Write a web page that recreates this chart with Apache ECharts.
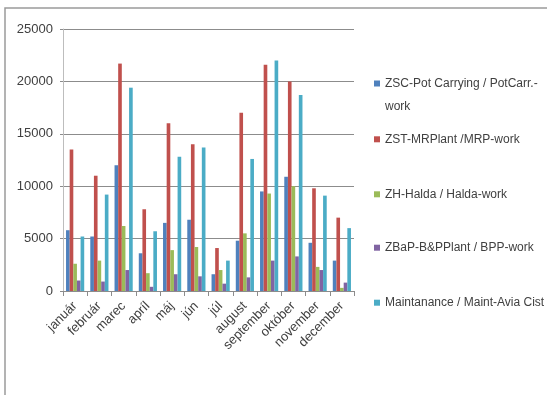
<!DOCTYPE html>
<html>
<head>
<meta charset="utf-8">
<script src="https://cdn.jsdelivr.net/npm/echarts@6/dist/echarts.min.js"></script>
<style>
  html, body { margin: 0; padding: 0; background: #fff; }
  #chart { width: 547px; height: 395px; }
</style>
</head>
<body>
<div id="chart"></div>
<script>
// Monthly work hours by plant / activity
const months = ['január', 'február', 'marec', 'apríl', 'máj', 'jún', 'júl', 'august', 'september', 'október', 'november', 'december'];

const seriesNames = [
  'ZSC-Pot Carrying / PotCarr.-\nwork',
  'ZST-MRPlant /MRP-work',
  'ZH-Halda / Halda-work',
  'ZBaP-B&PPlant / BPP-work',
  'Maintanance / Maint-Avia Cist'
];

const potCarrying = [5800, 5200, 12000, 3600, 6500, 6800, 1600, 4800, 9500, 10900, 4600, 2900];
const mrPlant     = [13500, 11000, 21700, 7800, 16000, 14000, 4100, 17000, 21600, 20000, 9800, 7000];
const halda       = [2600, 2900, 6200, 1700, 3900, 4200, 2000, 5500, 9300, 10000, 2300, 300];
const bppPlant    = [1000, 900, 2000, 400, 1600, 1400, 700, 1300, 2900, 3300, 2000, 800];
const maintenance = [5200, 9200, 19400, 5700, 12800, 13700, 2900, 12600, 22000, 18700, 9100, 6000];

const yTicks = [0, 5000, 10000, 15000, 20000, 25000];

const colors = ['#4F81BD', '#C0504D', '#9BBB59', '#8064A2', '#4BACC6'];
const values = [potCarrying, mrPlant, halda, bppPlant, maintenance];

const font = 'Liberation Sans, Arial, sans-serif';
const textColor = '#404040';

// one legend block per series so each entry sits at its own height;
// the two-line entry gets a blank leading line so its marker lines up with the first text line
const legendCenters = [83.5, 139.3, 194.3, 247.7, 302.7];
const legends = seriesNames.map((name, i) => {
  const first = i === 0;
  const lh = first ? 23 : 15;
  const boxH = first ? 69 : 15;
  return {
    data: [name],
    orient: 'vertical',
    left: 374,
    top: legendCenters[i] - boxH / 2,
    padding: 0,
    itemWidth: 6,
    itemHeight: 6,
    icon: 'rect',
    selectedMode: false,
    formatter: first ? (n) => '\n' + n : undefined,
    textStyle: {
      fontFamily: font,
      fontSize: 12,
      color: textColor,
      lineHeight: lh
    }
  };
});

const chart = echarts.init(document.getElementById('chart'), null, { renderer: 'canvas' });

chart.setOption({
  backgroundColor: '#ffffff',
  animation: false,
  color: colors,
  graphic: [{
    type: 'rect',
    shape: { x: 5, y: 8, width: 600, height: 450 },
    style: { fill: 'none', stroke: '#9a9a9a', lineWidth: 1.5 },
    silent: true,
    z: -1
  }],
  legend: legends,
  grid: { left: 63, top: 29, width: 291, height: 262, containLabel: false },
  xAxis: {
    type: 'category',
    data: months,
    boundaryGap: true,
    axisLine: { show: true, lineStyle: { color: '#8c8c8c', width: 1 } },
    axisTick: { show: true, length: 5, lineStyle: { color: '#8c8c8c' } },
    axisLabel: {
      rotate: 45,
      interval: 0,
      margin: 13,
      fontFamily: font,
      fontSize: 13,
      color: textColor
    },
    splitLine: { show: false }
  },
  yAxis: {
    type: 'value',
    min: yTicks[0],
    max: yTicks[yTicks.length - 1],
    interval: yTicks[1] - yTicks[0],
    axisLine: { show: true, lineStyle: { color: '#bdbdbd', width: 1 } },
    axisTick: { show: true, length: 3, lineStyle: { color: '#8c8c8c' } },
    axisLabel: {
      margin: 10,
      fontFamily: font,
      fontSize: 13,
      color: textColor,
      formatter: (v) => String(v)
    },
    splitLine: { show: true, lineStyle: { color: '#8c8c8c', width: 1 } }
  },
  series: seriesNames.map((name, i) => ({
    name: name,
    type: 'bar',
    data: values[i],
    barGap: '0%',
    barCategoryGap: '25%',
    itemStyle: { color: colors[i] }
  }))
});
</script>
</body>
</html>
